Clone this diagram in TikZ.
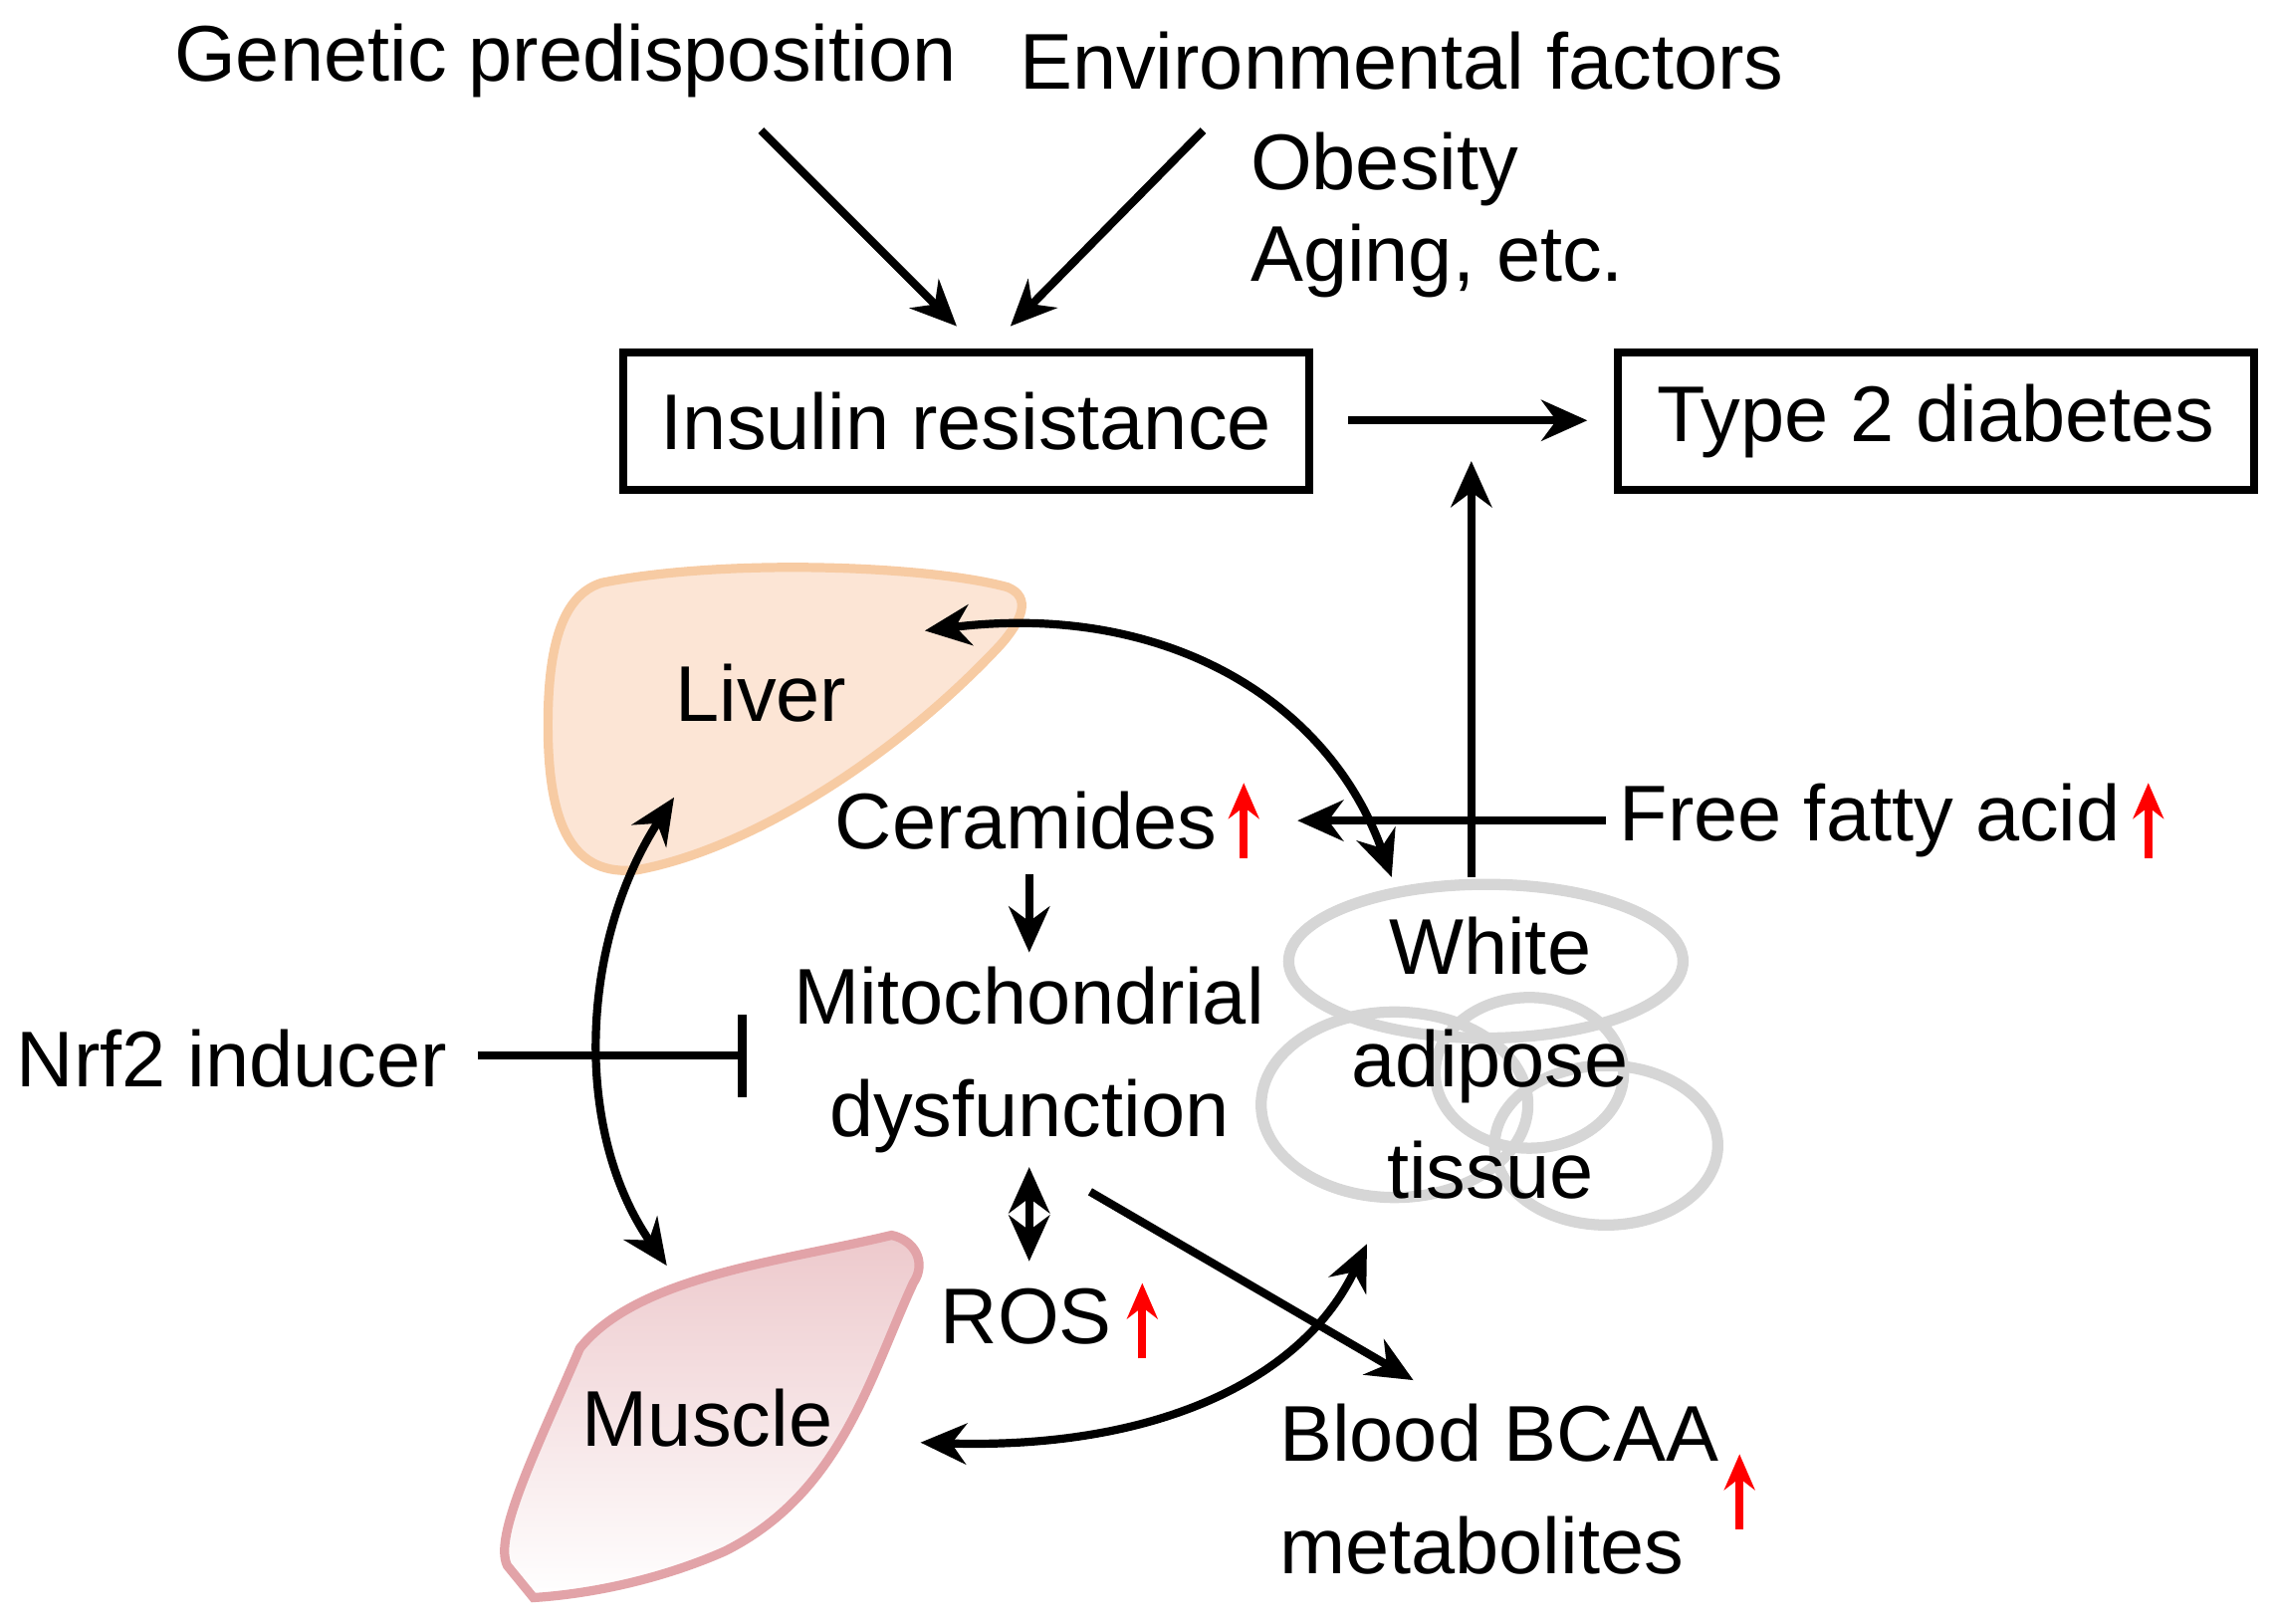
\documentclass[tikz,border=0pt]{standalone}
\usepackage{fontspec}
\setmainfont{Liberation Sans}
\usetikzlibrary{arrows.meta}
\definecolor{liverfill}{HTML}{FCE5D5}
\definecolor{liverline}{HTML}{F7CBA3}
\definecolor{musfill}{HTML}{EDC9CC}
\definecolor{musline}{HTML}{E2A3A8}
\definecolor{watline}{HTML}{D6D6D6}
\begin{document}
\begin{tikzpicture}[x=0.01cm,y=-0.01cm,
  txt/.style={font=\fontsize{15.5}{18}\selectfont,inner sep=0pt},
  box/.style={draw,line width=1.6pt,minimum width=473\pgflinewidth,inner sep=0pt},
  arr/.style={line width=1.6pt,-{Stealth[length=9pt,width=8pt]}},
  darr/.style={line width=1.6pt,{Stealth[length=9pt,width=8pt]}-{Stealth[length=9pt,width=8pt]}},
  up/.style={red,line width=1.6pt,-{Stealth[length=7pt,width=6pt]}}]
\useasboundingbox (0,0) rectangle (1568,1120);
% shapes
\path[fill=liverfill,draw=liverline,line width=1.8pt]
  (415,402) .. controls (500,385) and (640,390) .. (695,405)
  .. controls (712,412) and (705,428) .. (690,445)
  .. controls (620,520) and (520,585) .. (440,600)
  .. controls (395,605) and (378,570) .. (378,500)
  .. controls (378,440) and (390,410) .. (415,402) -- cycle;
\shade[left color=musfill,right color=white,shading angle=0]
  (350,1080) .. controls (340,1060) and (370,1000) .. (400,930)
  .. controls (440,880) and (540,870) .. (615,852)
  .. controls (630,855) and (640,870) .. (630,885)
  .. controls (600,950) and (580,1030) .. (500,1070)
  .. controls (450,1092) and (400,1100) .. (368,1102) -- cycle;
\draw[musline,line width=1.8pt]
  (350,1080) .. controls (340,1060) and (370,1000) .. (400,930)
  .. controls (440,880) and (540,870) .. (615,852)
  .. controls (630,855) and (640,870) .. (630,885)
  .. controls (600,950) and (580,1030) .. (500,1070)
  .. controls (450,1092) and (400,1100) .. (368,1102) -- cycle;
\begin{scope}[draw=watline,line width=2.2pt]
  \draw (1025,663) ellipse (136 and 53);
  \draw (962,762) ellipse (92 and 64);
  \draw (1055,740) ellipse (65 and 52);
  \draw (1108,790) ellipse (77 and 55);
\end{scope}
% texts
\node[txt] (gen) at (390,42) {Genetic predisposition};
\node[txt] (env) at (967,42) {Environmental factors};
\node[txt,anchor=west] (ob) at (862,117) {Obesity};
\node[txt,anchor=west] (ag) at (862,180) {Aging, etc.};
\node[txt,draw,line width=1.6pt,minimum width=4.73cm,minimum height=0.95cm] (ir) at (666.5,290.5) {Insulin resistance};
\node[txt,draw,line width=1.6pt,minimum width=4.39cm,minimum height=0.95cm] (t2d) at (1335.5,290.5) {Type 2 diabetes};
\node[txt] (liver) at (525,478) {Liver};
\node[txt] (cer) at (708,566) {Ceramides};
\node[txt] (ffa) at (1290,566) {Free fatty acid};
\node[txt,align=center] (mito) at (710,731) {Mitochondrial\\[4pt]dysfunction};
\node[txt] (nrf) at (160,730) {Nrf2 inducer};
\node[txt,align=center] (wat) at (1028,730) {White\\[4pt]adipose\\[4pt]tissue};
\node[txt] (ros) at (708,908) {ROS};
\node[txt] (mus) at (488,978) {Muscle};
\node[txt,align=left,anchor=west] (bcaa) at (882,1027) {Blood BCAA\\[4pt]metabolites};
% coordinates
\coordinate (ga) at (525,90); \coordinate (gb) at (660,225);
\coordinate (ea) at (830,90); \coordinate (eb) at (697,225);
\coordinate (ia) at (930,290); \coordinate (ib) at (1095,290);
\coordinate (wa) at (1015,605); \coordinate (wb) at (1015,318);
\coordinate (fa) at (1108,566); \coordinate (fb) at (895,566);
\coordinate (lw1) at (638,435); \coordinate (lw2) at (960,605);
\coordinate (ca) at (710,603); \coordinate (cb) at (710,657);
\coordinate (na) at (330,728); \coordinate (nb) at (512,728);
\coordinate (lm1) at (465,550); \coordinate (lm2) at (460,873);
\coordinate (ra) at (710,805); \coordinate (rb) at (710,870);
\coordinate (ba) at (752,822); \coordinate (bb) at (975,952);
\coordinate (mw1) at (635,995); \coordinate (mw2) at (943,858);
% connectors
\draw[arr] (ga) -- (gb);
\draw[arr] (ea) -- (eb);
\draw[arr] (ia) -- (ib);
\draw[arr] (wa) -- (wb);
\draw[arr] (fa) -- (fb);
\draw[darr] (lw1) .. controls (800,415) and (915,480) .. (lw2);
\draw[arr] (ca) -- (cb);
\draw[line width=1.6pt] (na) -- (nb);
\draw[line width=1.6pt] (512,700) -- (512,757);
\draw[darr] (lm1) .. controls (400,650) and (395,780) .. (lm2);
\draw[darr] (ra) -- (rb);
\draw[arr] (ba) -- (bb);
\draw[darr] (mw1) .. controls (800,1000) and (900,950) .. (mw2);
\draw[up] (858,592) -- (858,540);
\draw[up] (1482,592) -- (1482,540);
\draw[up] (788,937) -- (788,885);
\draw[up] (1200,1055) -- (1200,1003);
\end{tikzpicture}
\end{document}
